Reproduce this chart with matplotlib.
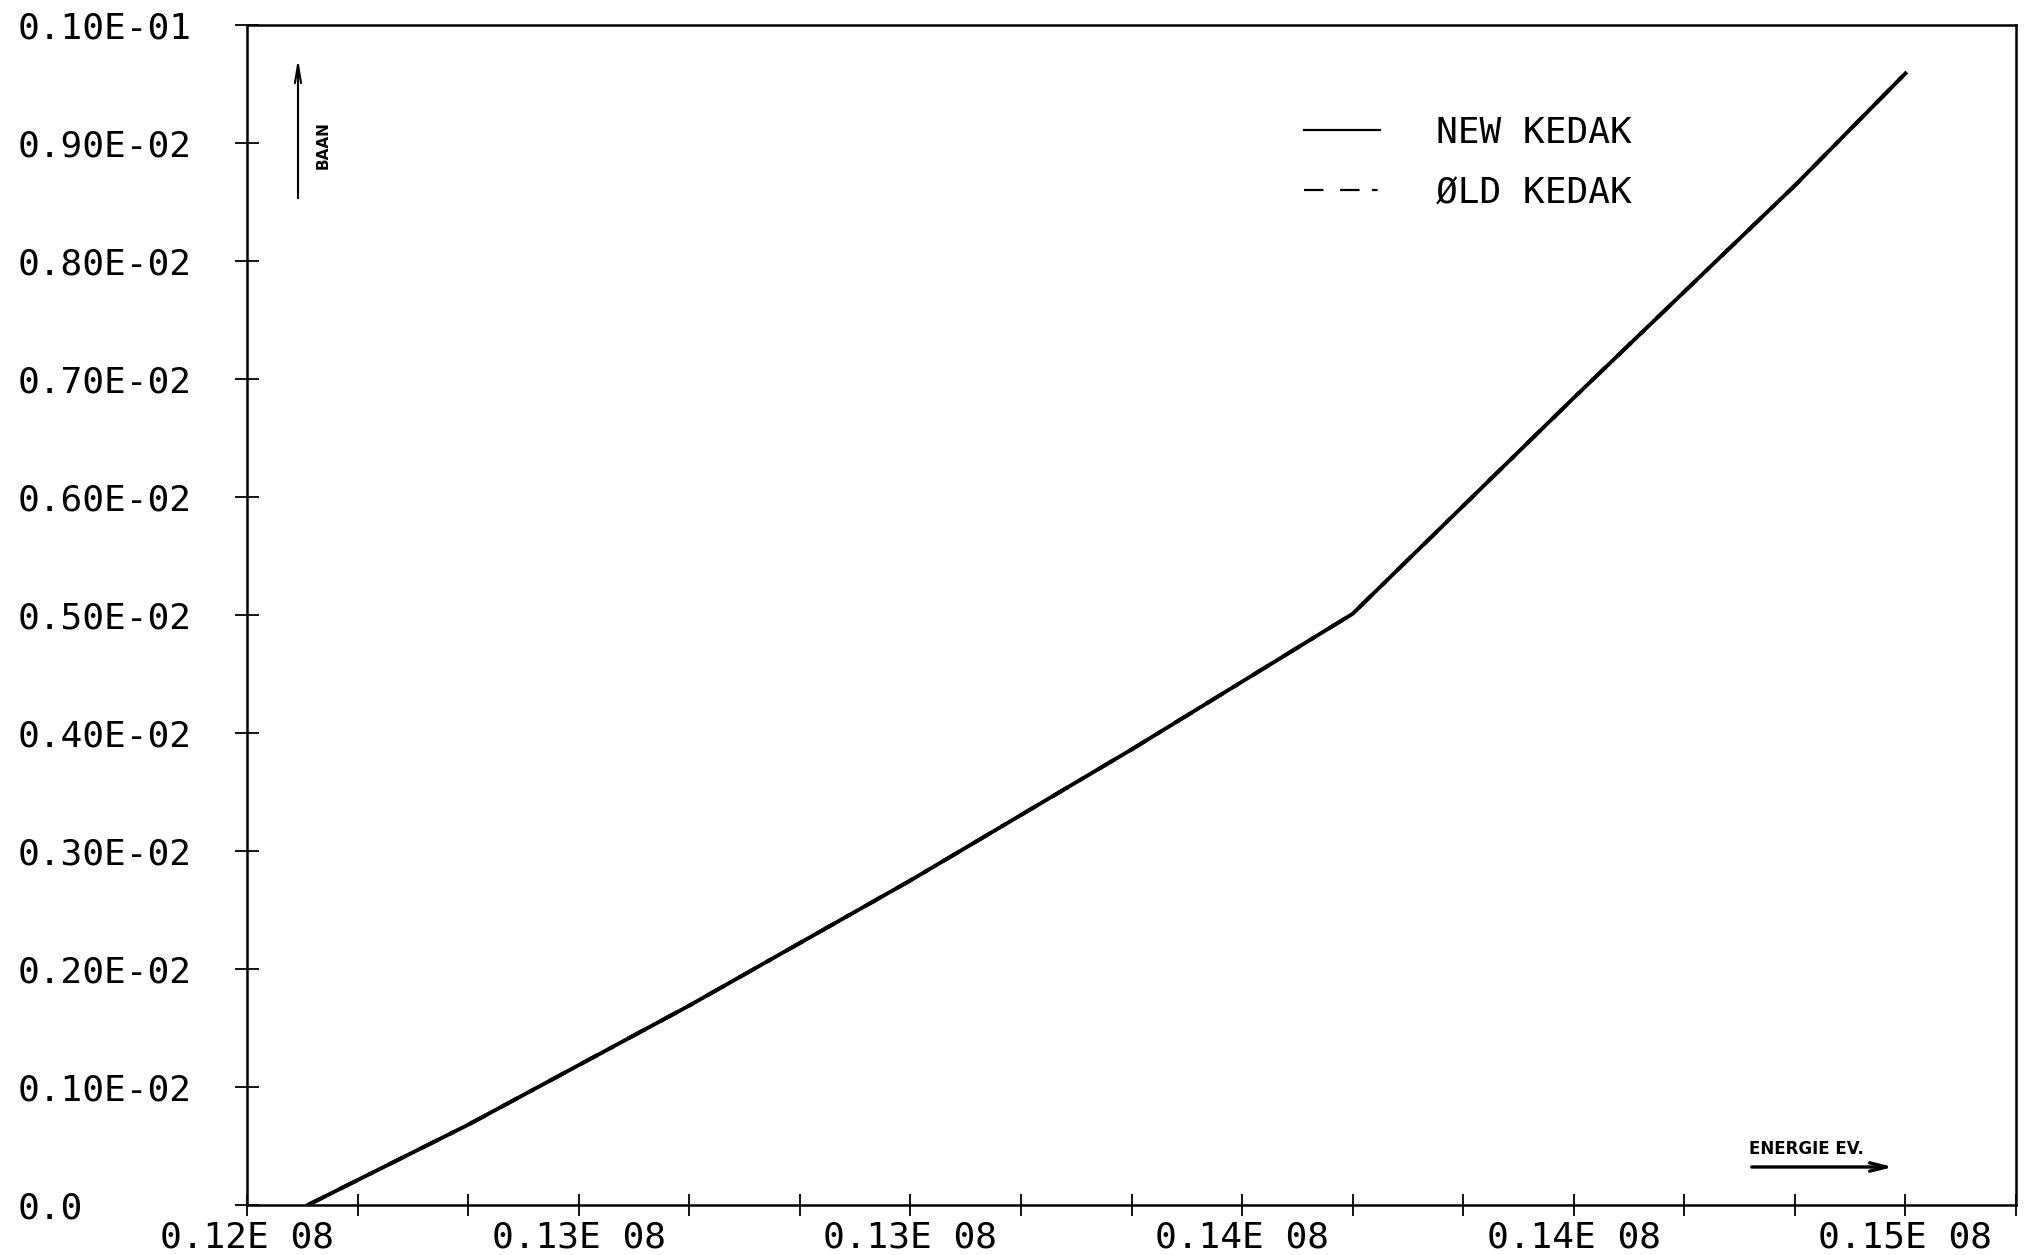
import matplotlib
matplotlib.use("Agg")
import matplotlib.pyplot as plt
from matplotlib.lines import Line2D
from matplotlib.ticker import FixedLocator

# Cross section vs. energy
energy_new = [1.211e7, 1.24e7, 1.28e7, 1.32e7, 1.36e7, 1.40e7, 1.44e7, 1.48e7, 1.50e7]
sigma_new = [0.0, 0.00068, 0.00169, 0.00275, 0.00386, 0.00501, 0.00684, 0.00864, 0.00959]
energy_old = [1.211e7, 1.24e7, 1.28e7, 1.32e7, 1.36e7, 1.40e7, 1.44e7, 1.48e7, 1.50e7]
sigma_old = [0.0, 0.00068, 0.00169, 0.00275, 0.00386, 0.00501, 0.00684, 0.00864, 0.00959]

x_major = [1.20e7, 1.26e7, 1.32e7, 1.38e7, 1.44e7, 1.50e7]
x_labels = ["0.12E 08", "0.13E 08", "0.13E 08", "0.14E 08", "0.14E 08", "0.15E 08"]
x_minor = [1.22e7, 1.24e7, 1.28e7, 1.30e7, 1.34e7, 1.36e7, 1.40e7, 1.42e7,
           1.46e7, 1.48e7, 1.52e7]
y_ticks = [0.0, 0.001, 0.002, 0.003, 0.004, 0.005, 0.006, 0.007, 0.008, 0.009, 0.010]
y_labels = ["0.0", "0.10E-02", "0.20E-02", "0.30E-02", "0.40E-02", "0.50E-02",
            "0.60E-02", "0.70E-02", "0.80E-02", "0.90E-02", "0.10E-01"]

plt.rcParams["lines.scale_dashes"] = False
MONO = "DejaVu Sans Mono"
FS = 26

W, H = 2031, 1255
fig = plt.figure(figsize=(W / 100, H / 100), dpi=100)
ax = fig.add_axes([247 / W, 1 - 1205 / H, (2016 - 247) / W, (1205 - 25) / H])

ax.plot(energy_new, sigma_new, color="black", lw=2.8, solid_joinstyle="round")
ax.plot(energy_old, sigma_old, color="black", lw=2.8,
        linestyle=(0, (14, 12, 14, 9, 4, 12)))

ax.set_xlim(1.2e7, 1.52e7)
ax.set_ylim(0.0, 0.010)

for s in ax.spines.values():
    s.set_linewidth(1.8)
    s.set_color("black")

ax.xaxis.set_major_locator(FixedLocator(x_major))
ax.xaxis.set_minor_locator(FixedLocator(x_minor))
ax.set_xticklabels(x_labels, fontfamily=MONO, fontsize=FS)
ax.set_yticks(y_ticks)
ax.set_yticklabels(y_labels, fontfamily=MONO, fontsize=FS)

ax.tick_params(axis="x", which="both", direction="inout", length=16, width=1.3, pad=3)
ax.tick_params(axis="y", which="both", direction="inout", length=17, width=1.3, pad=157)
for lab in ax.get_yticklabels():
    lab.set_horizontalalignment("left")

# Axis annotations with arrows
ax.annotate("", xy=(298, H - 56), xytext=(298, H - 201),
            xycoords="figure pixels", textcoords="figure pixels",
            arrowprops=dict(arrowstyle="->,head_length=1.3,head_width=0.22",
                            color="black", lw=1.5))
fig.text(323 / W, 1 - 145 / H, "BAAN", rotation=90, ha="center", va="center",
         fontsize=11, fontweight="bold", fontfamily="DejaVu Sans")

ax.annotate("", xy=(1896, H - 1167), xytext=(1749, H - 1167),
            xycoords="figure pixels", textcoords="figure pixels",
            arrowprops=dict(arrowstyle="->,head_length=1.2,head_width=0.3",
                            color="black", lw=2.4))
fig.text(1749 / W, 1 - 1149 / H, "ENERGIE EV.", ha="left", va="center",
         fontsize=12, fontweight="bold", fontfamily="DejaVu Sans")

handles = [
    Line2D([], [], color="black", lw=1.6),
    Line2D([], [], color="black", lw=1.6, linestyle=(0, (14, 12, 14, 9, 4, 12))),
]
leg = ax.legend(handles, ["NEW KEDAK", "\u00d8LD KEDAK"],
                loc="upper left", bbox_to_anchor=(1304 / W, 1 - 116 / H),
                bbox_transform=fig.transFigure, frameon=False, borderpad=0,
                borderaxespad=0, handlelength=2.1, handletextpad=1.55,
                labelspacing=0.72, prop=dict(family=MONO, size=FS))

fig.savefig("out.png", dpi=100, facecolor="white")
